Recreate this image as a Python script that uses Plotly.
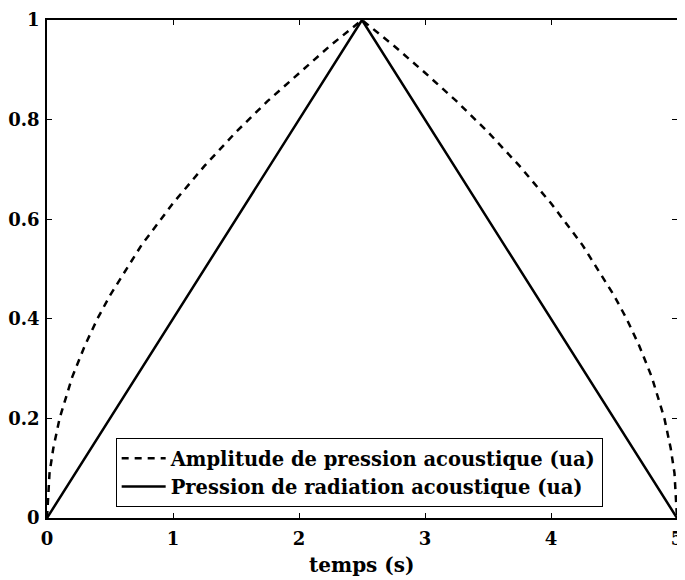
import plotly.graph_objects as go

# temps (s)
temps = [0, 0.02, 0.05, 0.1, 0.2, 0.3, 0.4, 0.5, 0.75, 1.0, 1.25, 1.5, 1.75, 2.0, 2.25, 2.5,
         2.75, 3.0, 3.25, 3.5, 3.75, 4.0, 4.25, 4.5, 4.6, 4.7, 4.8, 4.9, 4.95, 4.98, 5.0]
# amplitude de pression (pointillés)
amplitude = [0, 0.09, 0.14, 0.2, 0.283, 0.346, 0.4, 0.447, 0.548, 0.632, 0.707, 0.775, 0.837, 0.894, 0.949, 1.0,
             0.949, 0.894, 0.837, 0.775, 0.707, 0.632, 0.548, 0.447, 0.4, 0.346, 0.283, 0.2, 0.14, 0.09, 0]
# pression de radiation (trait plein)
temps_rad = [0, 2.5, 5]
radiation = [0, 1, 0]

police = dict(family="DejaVu Serif", color="black", weight="bold")

fig = go.Figure()
fig.add_trace(go.Scatter(x=temps, y=amplitude, mode="lines",
                         name="Amplitude de pression acoustique (ua)",
                         line=dict(color="black", width=2.5, dash="7px,6px")))
fig.add_trace(go.Scatter(x=temps_rad, y=radiation, mode="lines",
                         name="Pression de radiation acoustique (ua)",
                         line=dict(color="black", width=2.5)))

axe = dict(showgrid=False, zeroline=False, showline=True, linecolor="black", linewidth=1.5,
           mirror="ticks", ticks="inside", ticklen=5, tickwidth=1, tickcolor="black",
           tickfont=dict(size=18, **police))

fig.update_xaxes(range=[0, 5], tickvals=[0, 1, 2, 3, 4, 5], ticklabelstandoff=4, **axe)
fig.update_yaxes(range=[0, 1], tickvals=[0, 0.2, 0.4, 0.6, 0.8, 1],
                 ticktext=["0", "0.2", "0.4", "0.6", "0.8", "1"], ticklabelstandoff=2, **axe)

# titre de l'axe x placé à la main
fig.add_annotation(text="temps (s)", xref="paper", yref="paper", x=0.5, y=0,
                   yanchor="middle", yshift=-47, showarrow=False,
                   font=dict(size=20, **police))

# la page a une marge de 8 px : la figure fait donc 677 x 572
fig.update_layout(
    width=677, height=572,
    margin=dict(l=39, r=8, t=12, b=62, autoexpand=False),
    plot_bgcolor="white", paper_bgcolor="white",
    legend=dict(x=0.109, y=0.022, xanchor="left", yanchor="bottom",
                bordercolor="black", borderwidth=1, bgcolor="white", itemwidth=44,
                font=dict(size=19.5, **police), tracegroupgap=0),
)

fig.write_html("out.html")
